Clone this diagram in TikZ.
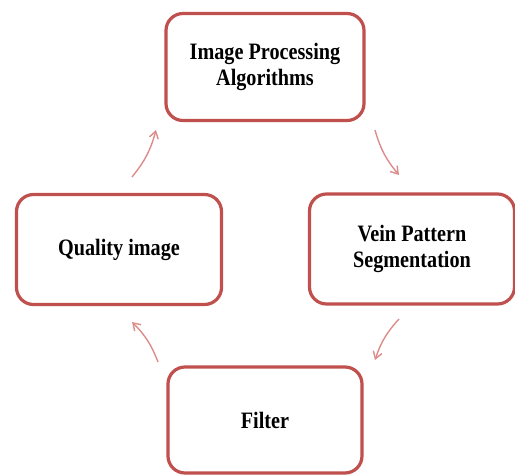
\documentclass[tikz,border=0pt]{standalone}
\usepackage{fontspec}
\setmainfont{Liberation Serif}[FakeStretch=0.86]
\usepackage{xcolor}
\usetikzlibrary{arrows.meta}
\definecolor{boxred}{RGB}{192,80,77}
\definecolor{arrowpink}{RGB}{220,140,138}

\tikzset{
	stagebox/.style={draw=boxred, line width=3.2pt, fill=white, rounded corners=17pt,
		align=center, font=\fontsize{23.5}{25.5}\selectfont\bfseries, text=black},
	cyclearrow/.style={draw=arrowpink, line width=1.4pt, -{Straight Barb[length=7pt,width=9pt]}}
}

\begin{document}
\begin{tikzpicture}[x=1pt,y=-1pt]
			\useasboundingbox (0,0) rectangle (515,475);
			
			\node[stagebox, minimum width=198pt, minimum height=107pt] (algo) at (265,67) {Image Processing\\Algorithms};
			\node[stagebox, minimum width=205pt, minimum height=110pt] (segm) at (412,249) {Vein Pattern\\Segmentation};
			\node[stagebox, minimum width=194pt, minimum height=106pt] (filter) at (265,420) {Filter};
			\node[stagebox, minimum width=205pt, minimum height=110pt] (quality) at (119,249.5) {Quality image};
			
			% free ends of the arrows
			\coordinate (q1) at (132,177);
			\coordinate (a0) at (156,130);
			\coordinate (a1) at (375,130);
			\coordinate (s0) at (399,175);
			\coordinate (s1) at (399,319);
			\coordinate (f0) at (375,360);
			\coordinate (f1) at (158,362);
			\coordinate (q0) at (132,322);
			
			\draw[cyclearrow] (q1) to[bend right=12] (a0);
			\draw[cyclearrow] (a1) to[bend right=12] (s0);
			\draw[cyclearrow] (s1) to[bend right=12] (f0);
			\draw[cyclearrow] (f1) to[bend right=12] (q0);
		\end{tikzpicture}
\end{document}
